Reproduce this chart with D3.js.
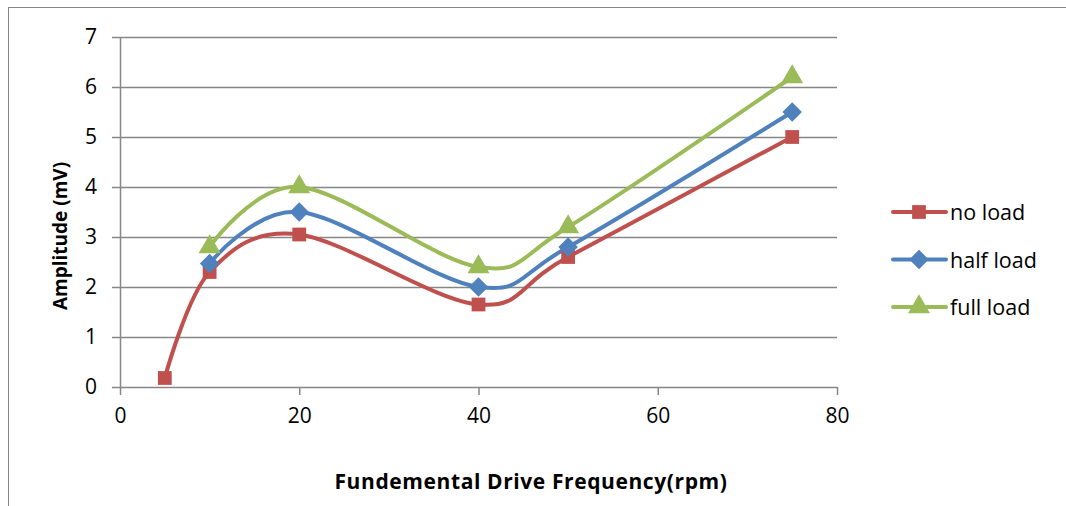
<!DOCTYPE html>
<html>
<head>
<meta charset="utf-8">
<script src="https://cdn.jsdelivr.net/npm/d3@7"></script>
<style>
  body { margin: 0; background: #fff; }
  text { font-family: "Open Sans", "Noto Sans", sans-serif; }
</style>
</head>
<body>
<div id="chart"></div>
<script>
// data
const seriesNames = ["no load", "half load", "full load"];
const noLoadX = [5, 10, 20, 40, 50, 75];
const noLoadY = [0.18, 2.3, 3.05, 1.65, 2.6, 5.0];
const halfLoadX = [10, 20, 40, 50, 75];
const halfLoadY = [2.47, 3.5, 2.0, 2.8, 5.5];
const fullLoadX = [10, 20, 40, 50, 75];
const fullLoadY = [2.8, 4.0, 2.4, 3.2, 6.2];
const xTicks = [0, 20, 40, 60, 80];
const yTicks = [0, 1, 2, 3, 4, 5, 6, 7];

const colors = ["#C0504D", "#4F81BD", "#9BBB59"];
// square, diamond (square turned 45deg), triangle
const shapes = [d3.symbolSquare, d3.symbolSquare, d3.symbolTriangle];
const symSizes = [190, 190, 210];
const symRot = [0, 45, 0];

const series = [
    { name: seriesNames[0], pts: noLoadX.map((x, i) => ({ x: x, y: noLoadY[i] })) },
    { name: seriesNames[1], pts: halfLoadX.map((x, i) => ({ x: x, y: halfLoadY[i] })) },
    { name: seriesNames[2], pts: fullLoadX.map((x, i) => ({ x: x, y: fullLoadY[i] })) }
];

const W = 1066, H = 506;
const margin = { top: 37, right: 229, bottom: 119, left: 120 };
const width = W - margin.left - margin.right;
const height = H - margin.top - margin.bottom;

const svgRoot = d3.select("#chart").append("svg")
    .attr("width", W)
    .attr("height", H);

// outer chart frame
svgRoot.append("rect")
    .attr("x", 8.5).attr("y", 7.5)
    .attr("width", W + 20).attr("height", H + 20)
    .attr("fill", "none")
    .attr("stroke", "#868686")
    .attr("stroke-width", 1);

const svg = svgRoot.append("g")
    .attr("transform", `translate(${margin.left},${margin.top})`);

const xScale = d3.scaleLinear().domain([0, 80]).range([0, width]);
const yScale = d3.scaleLinear().domain([0, 7]).range([height, 0]);

// gridlines
svg.selectAll(".grid")
    .data(yTicks.filter(d => d > 0))
    .enter()
    .append("line")
    .attr("x1", 0).attr("x2", width)
    .attr("y1", d => Math.round(yScale(d)) + 0.5)
    .attr("y2", d => Math.round(yScale(d)) + 0.5)
    .attr("stroke", "#868686")
    .attr("stroke-width", 1.5);

// axes
const xAxis = svg.append("g")
    .attr("transform", `translate(0,${height})`)
    .call(d3.axisBottom(xScale).tickValues(xTicks).tickSize(8).tickSizeOuter(0).tickPadding(13));
const yAxis = svg.append("g")
    .call(d3.axisLeft(yScale).tickValues(yTicks).tickFormat(d3.format("d")).tickSize(8).tickSizeOuter(0).tickPadding(15));

[xAxis, yAxis].forEach(a => {
    a.select(".domain").attr("stroke", "#868686").attr("stroke-width", 1.5);
    a.selectAll(".tick line").attr("stroke", "#868686").attr("stroke-width", 1.5);
    a.selectAll(".tick text").attr("fill", "#000").style("font-size", "21px");
});

// smoothed lines
const line = d3.line()
    .x(d => xScale(d.x))
    .y(d => yScale(d.y))
    .curve(d3.curveCatmullRom.alpha(0));

series.forEach((s, i) => {
    svg.append("path")
        .datum(s.pts)
        .attr("fill", "none")
        .attr("stroke", colors[i])
        .attr("stroke-width", 4)
        .attr("stroke-linecap", "round")
        .attr("d", line);
});

series.forEach((s, i) => {
    svg.selectAll(".pt" + i)
        .data(s.pts)
        .enter()
        .append("path")
        .attr("class", "pt" + i)
        .attr("transform", d => `translate(${xScale(d.x)},${yScale(d.y)}) rotate(${symRot[i]})`)
        .attr("d", d3.symbol().type(shapes[i]).size(symSizes[i]))
        .attr("fill", colors[i]);
});

// axis titles
svgRoot.append("text")
    .attr("transform", `translate(67,236) rotate(-90)`)
    .attr("text-anchor", "middle")
    .style("font-size", "19px")
    .style("font-weight", "bold")
    .text("Amplitude (mV)");

svgRoot.append("text")
    .attr("x", 531).attr("y", 489)
    .attr("text-anchor", "middle")
    .style("font-size", "21px")
    .style("font-weight", "bold")
    .style("letter-spacing", "0.6px")
    .text("Fundemental Drive Frequency(rpm)");

// legend
const legend = svgRoot.append("g")
    .attr("transform", "translate(891,212)");

series.forEach((s, i) => {
    const g = legend.append("g").attr("transform", `translate(0,${i * 47.5})`);
    g.append("line")
        .attr("x1", 2).attr("x2", 55)
        .attr("stroke", colors[i])
        .attr("stroke-width", 4)
        .attr("stroke-linecap", "round");
    g.append("path")
        .attr("transform", `translate(28,0) rotate(${symRot[i]})`)
        .attr("d", d3.symbol().type(shapes[i]).size(symSizes[i]))
        .attr("fill", colors[i]);
    g.append("text")
        .attr("x", 59).attr("y", 8)
        .style("font-size", "21.5px")
        .text(s.name);
});
</script>
</body>
</html>
